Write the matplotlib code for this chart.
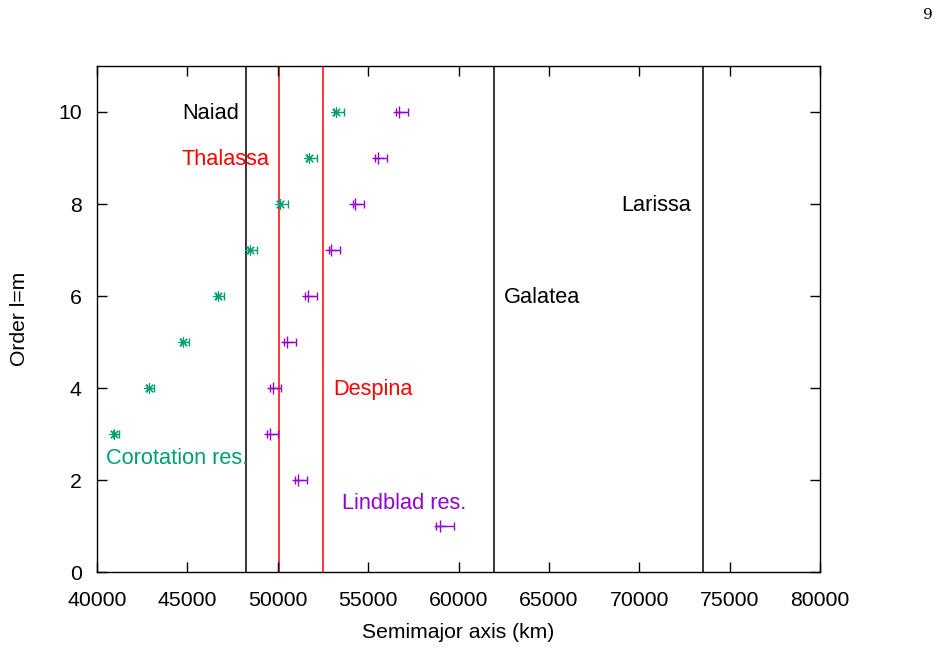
import matplotlib
matplotlib.use("Agg")
import matplotlib.pyplot as plt
import numpy as np

plt.rcParams['font.family'] = ['Liberation Sans', 'DejaVu Sans']

# Data
order_cor = [3, 4, 5, 6, 7, 8, 9, 10]
a_cor = [40960, 42860, 44760, 46680, 48450, 50140, 51750, 53240]
cor_lo = [80, 90, 100, 110, 110, 120, 120, 130]
cor_hi = [280, 300, 330, 360, 380, 400, 420, 440]

order_lin = [1, 2, 3, 4, 5, 6, 7, 8, 9, 10]
a_lin = [58980, 51100, 49550, 49720, 50510, 51670, 52970, 54290, 55550, 56710]
lin_lo = [220, 150, 150, 150, 150, 150, 150, 150, 150, 150]
lin_hi = [780, 500, 480, 480, 480, 480, 480, 500, 500, 500]

moons = ["Naiad", "Thalassa", "Despina", "Galatea", "Larissa"]
moon_a = [48227, 50074, 52526, 61953, 73548]
moon_colors = ["black", "red", "red", "black", "black"]
label_x = [44700, 44700, 53060, 62520, 69000]
label_y = [10, 9, 4, 6, 8]

green = "#009e73"
purple = "#9400d3"

fig = plt.figure(figsize=(9.42, 6.68), dpi=100)
ax = fig.add_axes([0.103, 0.1437, 0.7675, 0.7575])

for a, c in zip(moon_a, moon_colors):
    ax.axvline(a, color=c, lw=1.1, zorder=1)

for name, c, lx, ly in zip(moons, moon_colors, label_x, label_y):
    ax.text(lx, ly - 0.03, name, color=c, fontsize=15.7, ha='left', va='center')

ax.errorbar(a_cor, order_cor, xerr=[cor_lo, cor_hi], fmt='none',
            ecolor=green, elinewidth=1, capsize=3, capthick=1)
ax.plot(a_cor, order_cor, linestyle='none', marker=(8, 2, 0), ms=7.5,
        mec=green, mew=0.8, color=green)

ax.errorbar(a_lin, order_lin, xerr=[lin_lo, lin_hi], fmt='none',
            ecolor=purple, elinewidth=1, capsize=3, capthick=1)
ax.plot(a_lin, order_lin, linestyle='none', marker='+', ms=8,
        mec=purple, mew=1, color=purple)

ax.text(40500, 2.47, "Corotation res.", color=green, fontsize=15.7, ha='left', va='center')
ax.text(53560, 1.5, "Lindblad res.", color=purple, fontsize=15.7, ha='left', va='center')

ax.set_xlim(40000, 80000)
ax.set_ylim(0, 11)
ax.set_xticks(np.arange(40000, 80001, 5000))
ax.set_yticks([0, 2, 4, 6, 8, 10])
ax.tick_params(direction='in', top=True, right=True, labelsize=15.3, length=7, width=1)
ax.tick_params(axis='x', pad=14)
ax.tick_params(axis='y', pad=11)
for s in ax.spines.values():
    s.set_linewidth(1)
ax.set_xlabel("Semimajor axis (km)", fontsize=15.2, labelpad=9)
ax.set_ylabel("Order l=m", fontsize=15.2, labelpad=21)

fig.text(0.990, 0.978, "9", fontsize=11, family='DejaVu Serif', ha='right', va='center')

fig.savefig("out.png", dpi=100)
